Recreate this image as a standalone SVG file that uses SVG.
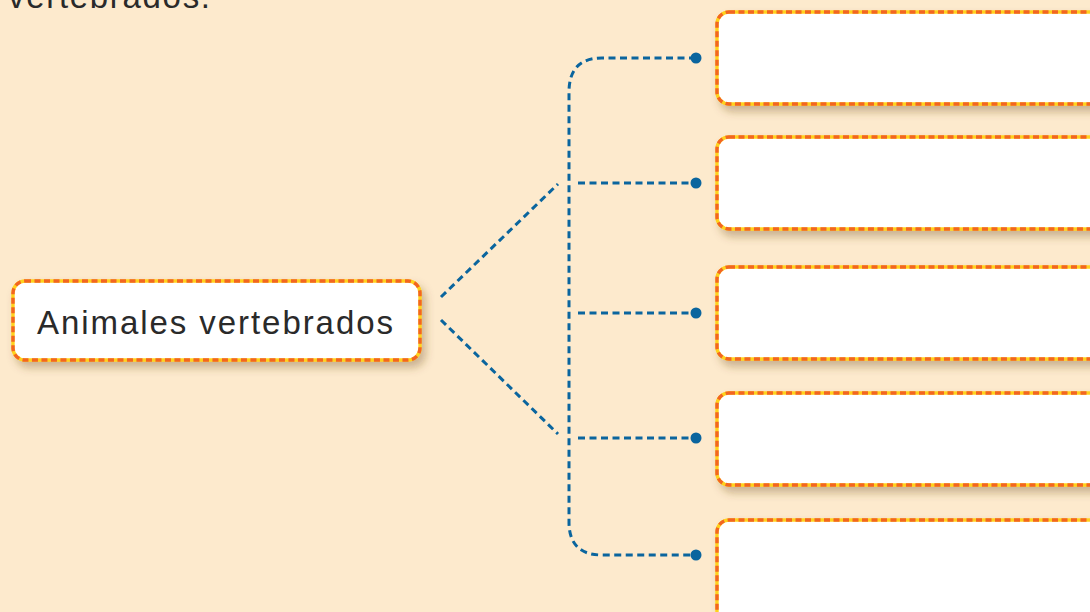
<svg xmlns="http://www.w3.org/2000/svg" width="1090" height="612" viewBox="0 0 1090 612">
<defs>
<filter id="sh" x="-10%" y="-20%" width="130%" height="160%">
<feDropShadow dx="4" dy="6" stdDeviation="4" flood-color="#6b4a1e" flood-opacity="0.35"/>
</filter>
</defs>
<style>
.box{fill:#fff;stroke:#FFD21F;stroke-width:3.4}
.dash{fill:none;stroke:#F26522;stroke-width:3.4;stroke-dasharray:6 3.5}
.conn{fill:none;stroke:#0A659E;stroke-width:3;stroke-dasharray:7 4.5}
.dot{fill:#0A659E}
.t{font-family:"Liberation Sans",Arial,sans-serif;font-size:33px;fill:#2a2a2a}
</style>
<rect width="1090" height="612" fill="#FDEACD"/>
<text class="t" x="8" y="8" textLength="202" lengthAdjust="spacing">vertebrados.</text>

<g id="connectors">
<path class="conn" d="M441,297 L558,184"/>
<path class="conn" d="M441,320 L558,434"/>
<path class="conn" d="M696,58 L602,58 Q569,58 569,92 L569,522 Q569,555 602,555 L696,555"/>
<path class="conn" d="M578,183 L696,183"/>
<path class="conn" d="M578,313 L696,313"/>
<path class="conn" d="M578,438 L696,438"/>
<circle class="dot" cx="696" cy="58" r="5.5"/>
<circle class="dot" cx="696" cy="183" r="5.5"/>
<circle class="dot" cx="696" cy="313" r="5.5"/>
<circle class="dot" cx="696" cy="438" r="5.5"/>
<circle class="dot" cx="696" cy="555" r="5.5"/>
</g>

<g id="root">
<rect class="box" x="13" y="281" width="407" height="79" rx="12" filter="url(#sh)"/>
<rect class="dash" x="13" y="281" width="407" height="79" rx="12"/>
<text class="t" x="37" y="334" textLength="356" lengthAdjust="spacing">Animales vertebrados</text>
</g>

<g id="box1">
<rect class="box" x="717" y="12" width="400" height="92" rx="12" filter="url(#sh)"/>
<rect class="dash" x="717" y="12" width="400" height="92" rx="12"/>
</g>
<g id="box2">
<rect class="box" x="717" y="137" width="400" height="92" rx="12" filter="url(#sh)"/>
<rect class="dash" x="717" y="137" width="400" height="92" rx="12"/>
</g>
<g id="box3">
<rect class="box" x="717" y="267" width="400" height="92" rx="12" filter="url(#sh)"/>
<rect class="dash" x="717" y="267" width="400" height="92" rx="12"/>
</g>
<g id="box4">
<rect class="box" x="717" y="393" width="400" height="92" rx="12" filter="url(#sh)"/>
<rect class="dash" x="717" y="393" width="400" height="92" rx="12"/>
</g>
<g id="box5">
<rect class="box" x="717" y="520" width="400" height="110" rx="12" filter="url(#sh)"/>
<rect class="dash" x="717" y="520" width="400" height="110" rx="12"/>
</g>
</svg>
